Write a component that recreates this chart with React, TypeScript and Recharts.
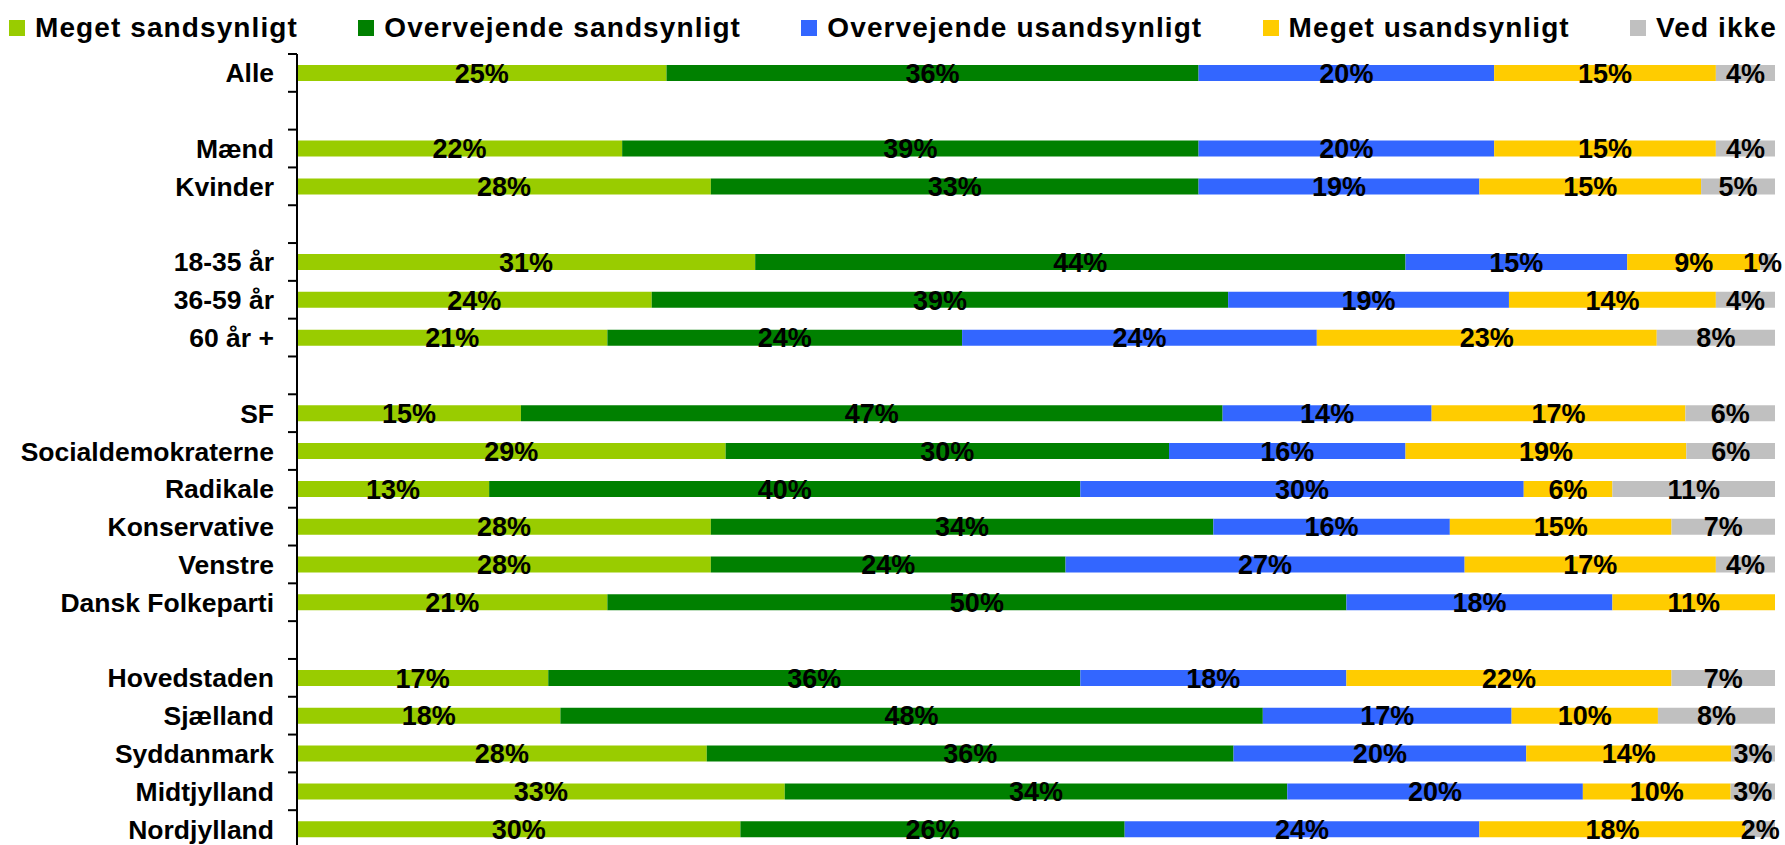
import React from 'react';
import { BarChart, Bar, XAxis, YAxis, Legend, LabelList } from 'recharts';

const categories = ['Alle', ' ', 'Mænd', 'Kvinder', '  ', '18-35 år', '36-59 år', '60 år +', '   ', 'SF', 'Socialdemokraterne', 'Radikale', 'Konservative', 'Venstre', 'Dansk Folkeparti', '    ', 'Hovedstaden', 'Sjælland', 'Syddanmark', 'Midtjylland', 'Nordjylland'];

const seriesNames = ['Meget sandsynligt', 'Overvejende sandsynligt', 'Overvejende usandsynligt', 'Meget usandsynligt', 'Ved ikke'];
const seriesKeys = ['s1', 's2', 's3', 's4', 's5'];
const seriesColors = ['#99CC00', '#008000', '#3366FF', '#FFCC00', '#C0C0C0'];

const megetSandsynligt = [25, null, 22, 28, null, 31, 24, 21, null, 15, 29, 13, 28, 28, 21, null, 17, 18, 28, 33, 30];
const overvejendeSandsynligt = [36, null, 39, 33, null, 44, 39, 24, null, 47, 30, 40, 34, 24, 50, null, 36, 48, 36, 34, 26];
const overvejendeUsandsynligt = [20, null, 20, 19, null, 15, 19, 24, null, 14, 16, 30, 16, 27, 18, null, 18, 17, 20, 20, 24];
const megetUsandsynligt = [15, null, 15, 15, null, 9, 14, 23, null, 17, 19, 6, 15, 17, 11, null, 22, 10, 14, 10, 18];
const vedIkke = [4, null, 4, 5, null, 1, 4, 8, null, 6, 6, 11, 7, 4, 0, null, 7, 8, 3, 3, 2];

const seriesValues = [megetSandsynligt, overvejendeSandsynligt, overvejendeUsandsynligt, megetUsandsynligt, vedIkke];

const data = categories.map((name, i) => {
  const row: any = { name };
  seriesKeys.forEach((k, s) => { row[k] = seriesValues[s][i]; });
  return row;
});

const FONT = '"Liberation Sans", Arial, Helvetica, sans-serif';
const WIDTH = 1785;
const HEIGHT = 850;
const MARGIN = { top: 2, right: 10, bottom: 2, left: 0 };
const LEGEND_H = 52;
const AXIS_W = 297;
const TICK_SIZE = 9;
const TICK_MARGIN = 14;
const PLOT_H = HEIGHT - MARGIN.top - MARGIN.bottom - LEGEND_H;
const BAND = PLOT_H / categories.length;
const VALUE_FS = 27;

function CategoryTick(props: any) {
  const { x, y, payload, index } = props;
  const lx1 = x + TICK_MARGIN;
  const lx2 = x + TICK_MARGIN + TICK_SIZE;
  return (
    <g>
      <line x1={lx1} x2={lx2} y1={y - BAND / 2} y2={y - BAND / 2} stroke="#000" strokeWidth={2} />
      {index === categories.length - 1 && (
        <line x1={lx1} x2={lx2} y1={y + BAND / 2} y2={y + BAND / 2} stroke="#000" strokeWidth={2} />
      )}
      <text x={x} y={y} dy="0.36em" textAnchor="end" fontFamily={FONT} fontWeight="bold" fontSize={26.5} fill="#000">
        {payload.value}
      </text>
    </g>
  );
}

function renderValueLabel(props: any) {
  const { value } = props;
  const vb = props.viewBox || props;
  if (typeof value !== 'number' || value === 0) return null;
  const txt = value + '%';
  const estW = (String(value).length * 0.556 + 0.889) * VALUE_FS;
  const cx = Math.min(vb.x + vb.width / 2, WIDTH - estW / 2 - 3);
  const cy = vb.y + vb.height / 2;
  return (
    <text x={cx} y={cy} dy="0.36em" textAnchor="middle" fontFamily={FONT} fontWeight="bold" fontSize={VALUE_FS} fill="#000">
      {txt}
    </text>
  );
}

function LegendContent() {
  return (
    <div
      style={{
        display: 'flex',
        justifyContent: 'space-between',
        alignItems: 'center',
        height: LEGEND_H,
        padding: '0 8px 0 9px',
        boxSizing: 'border-box',
        width: WIDTH,
      }}
    >
      {seriesNames.map((n, i) => (
        <div key={n} style={{ display: 'flex', alignItems: 'center' }}>
          <span style={{ width: 16, height: 16, background: seriesColors[i], marginRight: 10, display: 'inline-block' }} />
          <span style={{ fontFamily: FONT, fontWeight: 'bold', fontSize: 28, letterSpacing: 1.1, color: '#000', lineHeight: '30px' }}>{n}</span>
        </div>
      ))}
    </div>
  );
}

export default function App() {
  return (
    <div style={{ position: 'absolute', left: 0, top: 0, width: WIDTH, height: HEIGHT, background: '#fff' }}>
      <BarChart
        width={WIDTH}
        height={HEIGHT}
        data={data}
        layout="vertical"
        stackOffset="expand"
        margin={MARGIN}
        barSize={16}
      >
        <Legend
          verticalAlign="top"
          align="left"
          content={<LegendContent />}
          wrapperStyle={{ left: 0, top: MARGIN.top, width: WIDTH, height: LEGEND_H }}
        />
        <XAxis type="number" hide domain={[0, 1]} />
        <YAxis
          type="category"
          dataKey="name"
          width={AXIS_W}
          interval={0}
          tickSize={TICK_SIZE}
          tickMargin={TICK_MARGIN}
          tickLine={false}
          axisLine={{ stroke: '#000', strokeWidth: 2 }}
          tick={<CategoryTick />}
        />
        {seriesKeys.map((k, i) => (
          <Bar key={k} dataKey={k} name={seriesNames[i]} stackId="a" fill={seriesColors[i]} isAnimationActive={false}>
            <LabelList dataKey={k} content={renderValueLabel} />
          </Bar>
        ))}
      </BarChart>
    </div>
  );
}
